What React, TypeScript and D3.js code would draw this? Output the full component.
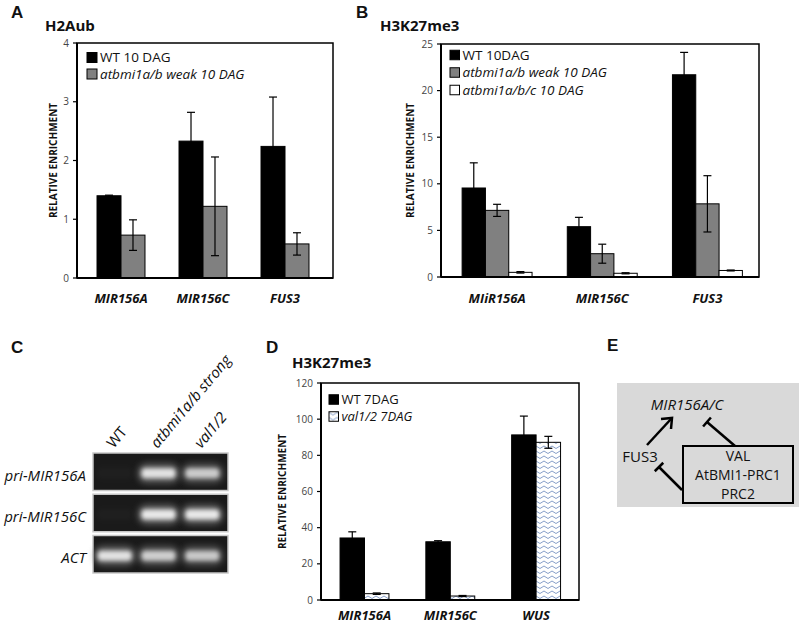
import React from "react";
import * as d3 from "d3";

// ---------- data ----------
const catsA = ["MIR156A", "MIR156C", "FUS3"];
const wtA = [1.4, 2.33, 2.24];
const wtAErr = [0.01, 0.49, 0.84];
const weakA = [0.73, 1.22, 0.58];
const weakAErr = [0.26, 0.84, 0.19];
const ticksA = [0, 1, 2, 3, 4];

const catsB = ["MIiR156A", "MIR156C", "FUS3"];
const wtB = [9.55, 5.4, 21.7];
const wtBErr = [2.7, 1.0, 2.4];
const weakB = [7.15, 2.5, 7.85];
const weakBErr = [0.65, 1.02, 3.02];
const tripleB = [0.5, 0.4, 0.7];
const tripleBErr = [0.08, 0.06, 0.05];
const ticksB = [0, 5, 10, 15, 20, 25];

const catsD = ["MIR156A", "MIR156C", "WUS"];
const wtD = [34.3, 32.2, 91.3];
const wtDErr = [3.4, 0.6, 10.4];
const valD = [3.5, 2.2, 87.2];
const valDErr = [0.4, 0.3, 3.3];
const ticksD = [0, 20, 40, 60, 80, 100, 120];

const gelLanes = ["WT", "atbmi1a/b strong", "val1/2"];
const gelRows = ["pri-MIR156A", "pri-MIR156C", "ACT"];
const gelIntensity = [
  [0.02, 0.92, 0.78],
  [0.02, 0.97, 0.97],
  [0.92, 0.8, 0.76],
];

const FONT = "'Open Sans', Lato, sans-serif";
const ARIAL = "'Liberation Sans', Arial, sans-serif";

type Series = { name: string; values: number[]; errs: number[]; fill: string; italic: boolean };

function BarPanel(props: {
  frame: { x0: number; x1: number; y0: number; y1: number };
  xr: [number, number];
  pIn: number;
  yMax: number;
  ticks: number[];
  cats: string[];
  series: Series[];
  legend: { x: number; y: number; dy: number; size: number; font: number };
  yTitleX: number;
  labelY: number;
}) {
  const { frame, xr, pIn, yMax, ticks, cats, series, legend, yTitleX, labelY } = props;
  const x = d3.scaleBand<string>().domain(cats).range(xr).paddingInner(pIn).paddingOuter(pIn / 2);
  const sub = d3
    .scaleBand<string>()
    .domain(series.map((_, i) => String(i)))
    .range([0, x.bandwidth()]);
  const y = d3.scaleLinear().domain([0, yMax]).range([frame.y1, frame.y0]);
  const bw = sub.bandwidth();
  return (
    <g>
      <rect
        x={frame.x0}
        y={frame.y0}
        width={frame.x1 - frame.x0}
        height={frame.y1 - frame.y0}
        fill="white"
        stroke="black"
        strokeWidth={1.5}
      />
      {series.map((s, si) =>
        cats.map((c, ci) => {
          const bx = (x(c) as number) + (sub(String(si)) as number);
          const v = s.values[ci];
          const e = s.errs[ci];
          const cx = bx + bw / 2;
          return (
            <g key={si + "-" + ci}>
              <rect x={bx} y={y(v)} width={bw} height={y(0) - y(v)} fill={s.fill} stroke="black" strokeWidth={1} />
              <line x1={cx} x2={cx} y1={y(v - e)} y2={y(v + e)} stroke="black" strokeWidth={1.2} />
              <line x1={cx - 4} x2={cx + 4} y1={y(v + e)} y2={y(v + e)} stroke="black" strokeWidth={1.2} />
              <line x1={cx - 4} x2={cx + 4} y1={y(v - e)} y2={y(v - e)} stroke="black" strokeWidth={1.2} />
            </g>
          );
        })
      )}
      <line x1={frame.x0} x2={frame.x0} y1={frame.y0} y2={frame.y1} stroke="black" strokeWidth={2} />
      <line x1={frame.x0} x2={frame.x1} y1={frame.y1} y2={frame.y1} stroke="black" strokeWidth={2} />
      {ticks.map((t) => (
        <g key={t}>
          <line x1={frame.x0 - 4} x2={frame.x0} y1={y(t)} y2={y(t)} stroke="black" strokeWidth={1.2} />
          <text
            x={frame.x0 - 8}
            y={y(t)}
            dy="0.35em"
            textAnchor="end"
            fontFamily={FONT}
            fontSize={10}
            fill="#444"
          >
            {t}
          </text>
        </g>
      ))}
      <text
        transform={`translate(${yTitleX},${(frame.y0 + frame.y1) / 2}) rotate(-90)`}
        textAnchor="middle"
        dy="0.35em"
        fontFamily={FONT}
        fontWeight="bold"
        fontSize={10}
        fill="#111"
      >
        RELATIVE ENRICHMENT
      </text>
      {cats.map((c) => (
        <text
          key={c}
          x={(x(c) as number) + x.bandwidth() / 2}
          y={labelY}
          textAnchor="middle"
          fontFamily={FONT}
          fontWeight="bold"
          fontStyle="italic"
          fontSize={13}
          fill="#111"
        >
          {c}
        </text>
      ))}
      {series.map((s, i) => (
        <g key={s.name} transform={`translate(${legend.x},${legend.y + i * legend.dy})`}>
          <rect x={0} y={-legend.size / 2} width={legend.size} height={legend.size} fill={s.fill} stroke="black" strokeWidth={1} />
          <text
            x={legend.size + 3}
            y={0}
            dy="0.35em"
            fontFamily={FONT}
            fontSize={legend.font}
            fontStyle={s.italic ? "italic" : "normal"}
            fill="#111"
          >
            {s.name}
          </text>
        </g>
      ))}
    </g>
  );
}

function Gel() {
  const lx = d3.scaleBand<string>().domain(gelLanes).range([95, 222]).paddingInner(0.1);
  const ry = d3.scaleBand<string>().domain(gelRows).range([453, 573]).paddingInner(0.09);
  return (
    <g>
      {gelRows.map((r, ri) => (
        <g key={r}>
          <rect
            x={93}
            y={ry(r) as number}
            width={135}
            height={ry.bandwidth()}
            fill="#1a1a1a"
            stroke="#c8c8c8"
            strokeWidth={1.5}
          />
          {gelLanes.map((l, li) => {
            const a = gelIntensity[ri][li];
            const cx = (lx(l) as number) + lx.bandwidth() / 2;
            const cy = (ry(r) as number) + ry.bandwidth() / 2 + 1.5;
            return (
              <g key={l}>
                <rect x={cx - 21} y={cy - 10} width={42} height={20} rx={9} fill="#888" opacity={a * 0.65} filter="url(#blur2)" />
                <rect x={cx - 17} y={cy - 5} width={34} height={10} rx={4} fill="#eee" opacity={a} filter="url(#blur)" />
              </g>
            );
          })}
          <text
            x={86}
            y={(ry(r) as number) + ry.bandwidth() / 2 + 4}
            dy="0.35em"
            textAnchor="end"
            fontFamily={FONT}
            fontStyle="italic"
            fontSize={15}
            fill="#111"
          >
            {r}
          </text>
        </g>
      ))}
      {gelLanes.map((l) => (
        <text
          key={l}
          transform={`translate(${(lx(l) as number) + lx.bandwidth() / 2 - 1},449) rotate(-50)`}
          fontFamily={FONT}
          fontStyle={l === "WT" ? "normal" : "italic"}
          fontSize={15}
          fill="#111"
        >
          {l}
        </text>
      ))}
    </g>
  );
}

function tBar(x1: number, y1: number, x2: number, y2: number, half: number) {
  const dx = x2 - x1;
  const dy = y2 - y1;
  const len = Math.hypot(dx, dy);
  const px = -dy / len;
  const py = dx / len;
  return (
    <g stroke="black" strokeWidth={2.5}>
      <line x1={x1} y1={y1} x2={x2} y2={y2} />
      <line x1={x2 - px * half} y1={y2 - py * half} x2={x2 + px * half} y2={y2 + py * half} />
    </g>
  );
}

function Diagram() {
  return (
    <g>
      <rect x={617} y={383} width={182} height={124} fill="#d9d9d9" />
      <rect x={683} y={446} width={110} height={57} fill="none" stroke="black" strokeWidth={2} />
      <text x={687} y={405} dy="0.35em" textAnchor="middle" fontFamily={FONT} fontStyle="italic" fontSize={15} fill="#111">
        MIR156A/C
      </text>
      <text x={640} y={457} dy="0.35em" textAnchor="middle" fontFamily={FONT} fontSize={15} fill="#111">
        FUS3
      </text>
      <g fontFamily={FONT} fontSize={14} fill="#111" textAnchor="middle">
        <text x={738} y={456} dy="0.35em">VAL</text>
        <text x={738} y={475} dy="0.35em">AtBMI1-PRC1</text>
        <text x={738} y={494} dy="0.35em">PRC2</text>
      </g>
      <g stroke="black" strokeWidth={2.5} fill="none">
        <line x1={647} y1={445} x2={671} y2={419} />
        <polyline points="661,419 672,418 671,429" />
      </g>
      {tBar(735, 446, 707, 422, 6)}
      {tBar(682, 490, 659, 467, 6)}
    </g>
  );
}

export default function App() {
  const seriesA: Series[] = [
    { name: "WT 10 DAG", values: wtA, errs: wtAErr, fill: "#000", italic: false },
    { name: "atbmi1a/b weak 10 DAG", values: weakA, errs: weakAErr, fill: "#808080", italic: true },
  ];
  const seriesB: Series[] = [
    { name: "WT 10DAG", values: wtB, errs: wtBErr, fill: "#000", italic: false },
    { name: "atbmi1a/b weak 10 DAG", values: weakB, errs: weakBErr, fill: "#808080", italic: true },
    { name: "atbmi1a/b/c 10 DAG", values: tripleB, errs: tripleBErr, fill: "#fff", italic: true },
  ];
  const seriesD: Series[] = [
    { name: "WT 7DAG", values: wtD, errs: wtDErr, fill: "#000", italic: false },
    { name: "val1/2 7DAG", values: valD, errs: valDErr, fill: "url(#zig)", italic: true },
  ];
  return (
    <svg width={799} height={625} style={{ position: "absolute", left: 0, top: 0, background: "white" }}>
      <defs>
        <filter id="blur" x="-40%" y="-100%" width="180%" height="300%">
          <feGaussianBlur stdDeviation={2} />
        </filter>
        <filter id="blur2" x="-50%" y="-100%" width="200%" height="300%">
          <feGaussianBlur stdDeviation={3.2} />
        </filter>
        <pattern id="zig" width={8} height={5} patternUnits="userSpaceOnUse">
          <rect width={8} height={5} fill="white" />
          <polyline points="0,1 4,3.5 8,1" fill="none" stroke="#7893c2" strokeWidth={0.9} />
        </pattern>
      </defs>
      <rect width={799} height={625} fill="white" />
      <g fontFamily={ARIAL} fontWeight="bold" fontSize={17} fill="#111">
        <text x={11} y={18}>A</text>
        <text x={356} y={18}>B</text>
        <text x={11} y={353}>C</text>
        <text x={266} y={353}>D</text>
        <text x={607} y={351}>E</text>
      </g>
      <g fontFamily={FONT} fontWeight="bold" fontSize={15} fill="#111">
        <text x={45} y={31}>H2Aub</text>
        <text x={380} y={31}>H3K27me3</text>
        <text x={292} y={368}>H3K27me3</text>
      </g>
      <BarPanel
        frame={{ x0: 77, x1: 333, y0: 43, y1: 278 }}
        xr={[80, 326]}
        pIn={0.415}
        yMax={4}
        ticks={ticksA}
        cats={catsA}
        series={seriesA}
        legend={{ x: 87, y: 57.5, dy: 16.5, size: 10, font: 13.5 }}
        yTitleX={53}
        labelY={303}
      />
      <BarPanel
        frame={{ x0: 441, x1: 759, y0: 44, y1: 277 }}
        xr={[444.5, 760]}
        pIn={0.335}
        yMax={25}
        ticks={ticksB}
        cats={catsB}
        series={seriesB}
        legend={{ x: 450, y: 55, dy: 17.5, size: 9.5, font: 13.5 }}
        yTitleX={410}
        labelY={303}
      />
      <Gel />
      <BarPanel
        frame={{ x0: 321, x1: 579, y0: 383, y1: 600 }}
        xr={[321.6, 579]}
        pIn={0.43}
        yMax={120}
        ticks={ticksD}
        cats={catsD}
        series={seriesD}
        legend={{ x: 329, y: 399.5, dy: 17, size: 9.5, font: 13 }}
        yTitleX={282}
        labelY={620}
      />
      <Diagram />
    </svg>
  );
}
